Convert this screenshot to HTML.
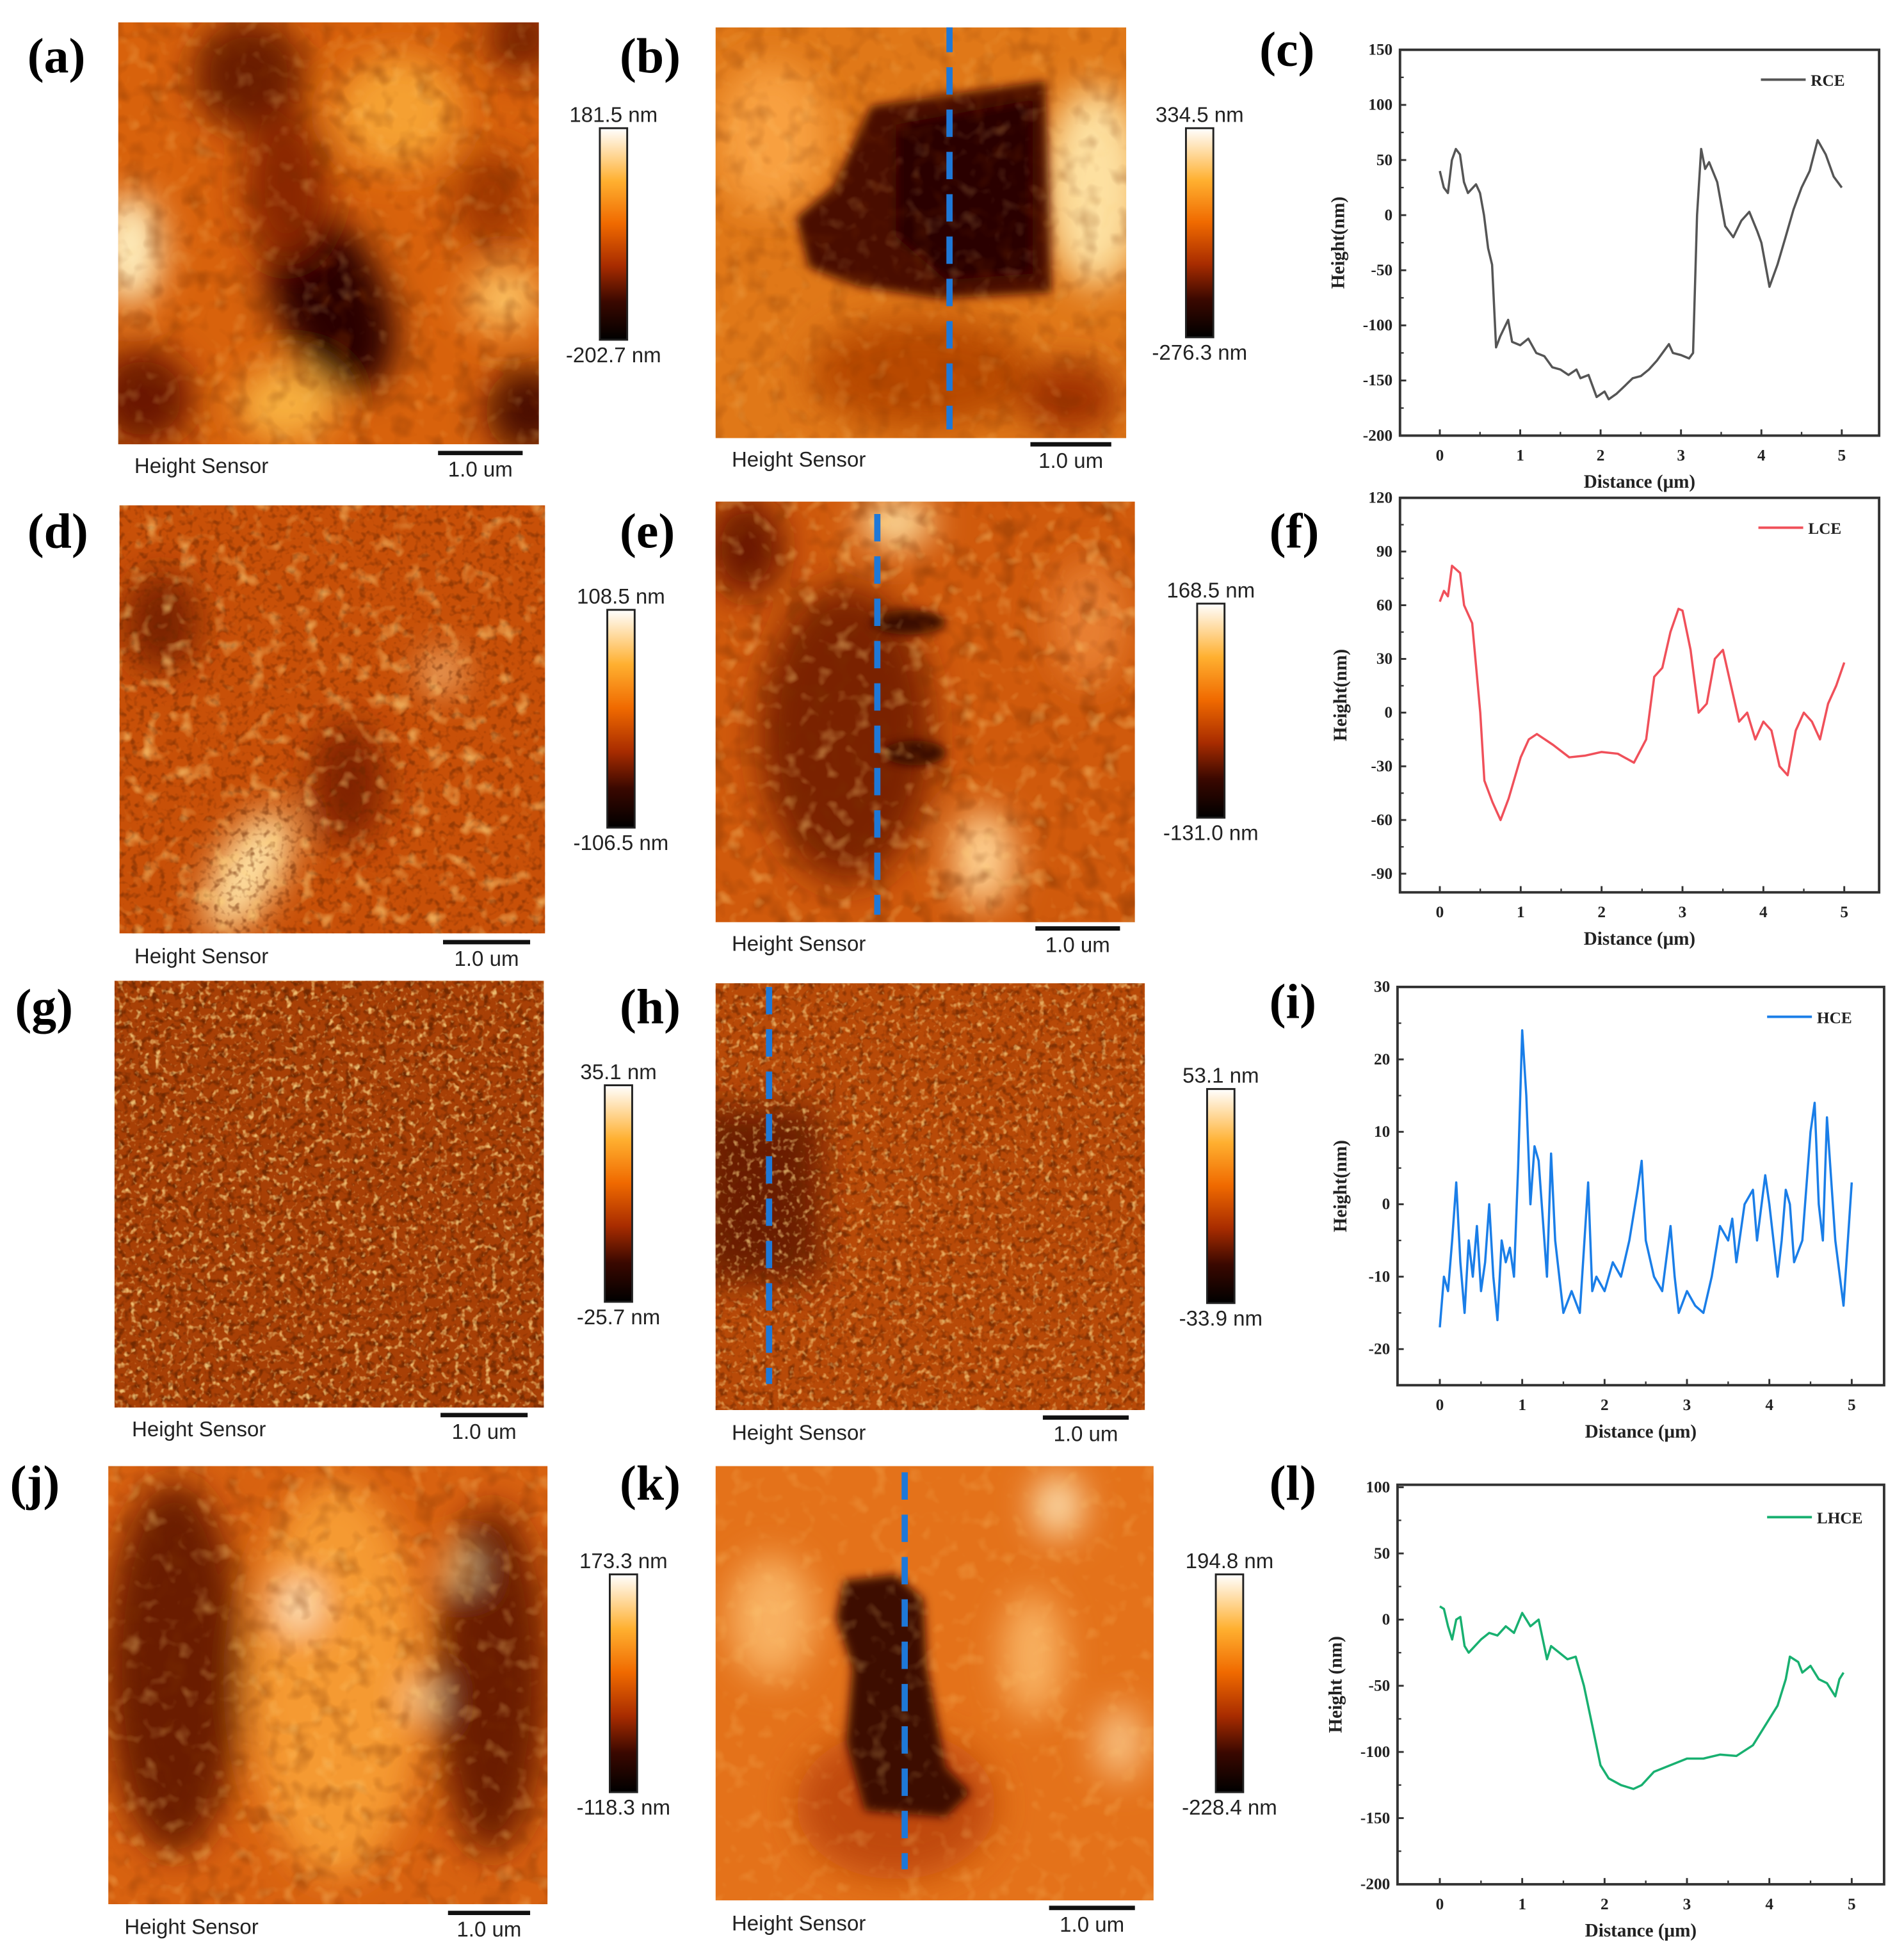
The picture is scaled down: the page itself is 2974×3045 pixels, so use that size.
<!DOCTYPE html>
<html><head><meta charset="utf-8"><style>
html,body{margin:0;padding:0;background:#fff;width:2974px;height:3045px;overflow:hidden}
svg text{font-family:"Liberation Serif",serif}
.lbl{font-family:"Liberation Serif",serif;font-weight:bold;font-size:40px}
.hs{font-family:"Liberation Sans",sans-serif;font-size:17px;fill:#222}
.cb{font-family:"Liberation Sans",sans-serif;font-size:17px;fill:#222}
.tk{font-family:"Liberation Serif",serif;font-weight:bold;font-size:13px;fill:#222}
.ax{font-family:"Liberation Serif",serif;font-weight:bold;font-size:15px;fill:#222}
</style></head><body>
<svg id="fig" width="2974" height="3045" viewBox="0 0 1530 1566" preserveAspectRatio="none" xmlns="http://www.w3.org/2000/svg">
<defs>
<filter id="blur" x="-20%" y="-20%" width="140%" height="140%"><feGaussianBlur stdDeviation="14"/></filter>
<filter id="blurS" x="-30%" y="-30%" width="160%" height="160%"><feGaussianBlur stdDeviation="4"/></filter>
<filter id="nDarkL"><feTurbulence type="fractalNoise" baseFrequency="0.06" numOctaves="2" seed="3"/><feColorMatrix type="matrix" values="0 0 0 0 0.2  0 0 0 0 0.03  0 0 0 0 0  -3 0 0 0 1.55"/></filter>
<filter id="nBrightL"><feTurbulence type="fractalNoise" baseFrequency="0.07" numOctaves="2" seed="7"/><feColorMatrix type="matrix" values="0 0 0 0 1  0 0 0 0 0.65  0 0 0 0 0.2  3 0 0 0 -1.65"/></filter>
<filter id="nDarkH"><feTurbulence type="fractalNoise" baseFrequency="0.18" numOctaves="2" seed="5"/><feColorMatrix type="matrix" values="0 0 0 0 0.15  0 0 0 0 0.02  0 0 0 0 0  -3.5 0 0 0 1.75"/></filter>
<filter id="nBrightH"><feTurbulence type="fractalNoise" baseFrequency="0.2" numOctaves="2" seed="9"/><feColorMatrix type="matrix" values="0 0 0 0 1  0 0 0 0 0.7  0 0 0 0 0.25  3.5 0 0 0 -1.9"/></filter>
<linearGradient id="cbar" x1="0" y1="0" x2="0" y2="1">
<stop offset="0" stop-color="#ffffff"/><stop offset="0.25" stop-color="#ffb030"/><stop offset="0.45" stop-color="#f06a00"/><stop offset="0.65" stop-color="#a82c00"/><stop offset="0.82" stop-color="#3a0800"/><stop offset="1" stop-color="#000"/>
</linearGradient>
<clipPath id="ca"><rect x="95" y="18" width="338" height="339"/></clipPath>
<clipPath id="cb"><rect x="575" y="22" width="330" height="330"/></clipPath>
<clipPath id="cd"><rect x="96" y="406" width="342" height="344"/></clipPath>
<clipPath id="ce"><rect x="575" y="403" width="337" height="338"/></clipPath>
<clipPath id="cg"><rect x="92" y="788" width="345" height="343"/></clipPath>
<clipPath id="ch"><rect x="575" y="790" width="345" height="343"/></clipPath>
<clipPath id="cj"><rect x="87" y="1178" width="353" height="352"/></clipPath>
<clipPath id="ck"><rect x="575" y="1178" width="352" height="349"/></clipPath>
</defs>

<g clip-path="url(#ca)">
<rect x="95" y="18" width="338" height="339" fill="#d8620c"/>
<g filter="url(#blur)">
<ellipse cx="200" cy="60" rx="45" ry="45" fill="#6a1c00"/>
<ellipse cx="265" cy="240" rx="45" ry="80" fill="#2a0400" transform="rotate(-25 265 240)"/>
<ellipse cx="230" cy="150" rx="35" ry="60" fill="#8a2800"/>
<ellipse cx="105" cy="200" rx="25" ry="45" fill="#fff0c0"/>
<ellipse cx="320" cy="90" rx="50" ry="45" fill="#f5a030"/>
<ellipse cx="230" cy="325" rx="40" ry="30" fill="#f8b040"/>
<ellipse cx="405" cy="240" rx="30" ry="25" fill="#fcc060"/>
<ellipse cx="115" cy="320" rx="40" ry="40" fill="#6a1800"/>
<ellipse cx="425" cy="330" rx="35" ry="35" fill="#4a0c00"/>
<ellipse cx="420" cy="30" rx="30" ry="30" fill="#7a2000"/>
<ellipse cx="395" cy="160" rx="30" ry="40" fill="#a03800"/>
</g>
<rect x="95" y="18" width="338" height="339" filter="url(#nDarkL)" opacity="0.35"/>
<rect x="95" y="18" width="338" height="339" filter="url(#nBrightL)" opacity="0.25"/>
</g>

<g clip-path="url(#cb)">
<rect x="575" y="22" width="330" height="330" fill="#e07818"/>
<g filter="url(#blur)">
<ellipse cx="880" cy="150" rx="40" ry="80" fill="#fde0a0"/>
<ellipse cx="620" cy="110" rx="45" ry="60" fill="#f8a040"/>
<ellipse cx="740" cy="300" rx="90" ry="45" fill="#b84800"/>
<ellipse cx="860" cy="320" rx="40" ry="30" fill="#a03000"/>
</g>
<g filter="url(#blurS)">
<polygon points="700,85 840,65 845,235 755,240 690,230 650,215 640,175 670,150" fill="#4a1000"/>
<polygon points="720,100 830,80 830,220 760,225 720,190" fill="#2c0600"/>
</g>
<rect x="575" y="22" width="330" height="330" filter="url(#nDarkL)" opacity="0.25"/>
<rect x="575" y="22" width="330" height="330" filter="url(#nBrightL)" opacity="0.2"/>
<line x1="763" y1="20" x2="763" y2="345" stroke="#1e78d8" stroke-width="5" stroke-dasharray="22,12"/>
</g>

<g clip-path="url(#cd)">
<rect x="96" y="406" width="342" height="344" fill="#c85008"/>
<g filter="url(#blur)">
<ellipse cx="200" cy="700" rx="25" ry="55" fill="#ffe0a0" transform="rotate(30 200 700)"/>
<ellipse cx="355" cy="540" rx="15" ry="15" fill="#ffd090"/>
<ellipse cx="130" cy="500" rx="30" ry="40" fill="#7a2000"/>
<ellipse cx="280" cy="630" rx="30" ry="50" fill="#802400"/>
</g>
<rect x="96" y="406" width="342" height="344" filter="url(#nDarkH)" opacity="0.5"/>
<rect x="96" y="406" width="342" height="344" filter="url(#nBrightL)" opacity="0.7"/>
</g>

<g clip-path="url(#ce)">
<rect x="575" y="403" width="337" height="338" fill="#d05a0c"/>
<g filter="url(#blur)">
<ellipse cx="680" cy="590" rx="70" ry="120" fill="#7a2200"/>
<ellipse cx="720" cy="420" rx="30" ry="20" fill="#ffe0a0"/>
<ellipse cx="600" cy="440" rx="30" ry="40" fill="#6a1800"/>
<ellipse cx="790" cy="690" rx="25" ry="40" fill="#ffd090"/>
<ellipse cx="875" cy="500" rx="30" ry="50" fill="#e88030"/>
</g>
<g filter="url(#blurS)"><ellipse cx="730" cy="500" rx="30" ry="10" fill="#3a0800"/><ellipse cx="735" cy="605" rx="25" ry="10" fill="#3a0800"/></g>
<rect x="575" y="403" width="337" height="338" filter="url(#nDarkL)" opacity="0.4"/>
<rect x="575" y="403" width="337" height="338" filter="url(#nBrightL)" opacity="0.45"/>
<line x1="705" y1="413" x2="705" y2="735" stroke="#1e78d8" stroke-width="5" stroke-dasharray="22,12"/>
</g>

<g clip-path="url(#cg)">
<rect x="92" y="788" width="345" height="343" fill="#a84006"/>
<rect x="92" y="788" width="345" height="343" filter="url(#nDarkH)" opacity="0.9"/>
<rect x="92" y="788" width="345" height="343" filter="url(#nBrightH)" opacity="0.8"/>
</g>

<g clip-path="url(#ch)">
<rect x="575" y="790" width="345" height="343" fill="#b84a08"/>
<g filter="url(#blur)"><rect x="560" y="890" width="100" height="140" fill="#6a1c00"/></g>
<rect x="575" y="790" width="345" height="343" filter="url(#nDarkH)" opacity="0.7"/>
<rect x="575" y="790" width="345" height="343" filter="url(#nBrightH)" opacity="0.65"/>
<line x1="665" y1="962" x2="748" y2="962" stroke="#3a0800" stroke-width="4" filter="url(#blurS)"/>
<line x1="618" y1="793" x2="618" y2="1112" stroke="#1e78d8" stroke-width="5" stroke-dasharray="22,12"/>
</g>

<g clip-path="url(#cj)">
<rect x="87" y="1178" width="353" height="352" fill="#d86210"/>
<g filter="url(#blur)">
<ellipse cx="140" cy="1340" rx="55" ry="150" fill="#6a1a00"/>
<ellipse cx="395" cy="1350" rx="45" ry="140" fill="#6a1a00"/>
<ellipse cx="270" cy="1350" rx="70" ry="160" fill="#f59a30"/>
<ellipse cx="240" cy="1290" rx="15" ry="20" fill="#fff0c8"/>
<ellipse cx="340" cy="1365" rx="12" ry="12" fill="#ffe8b0"/>
<ellipse cx="370" cy="1260" rx="12" ry="12" fill="#ffe0a0"/>
</g>
<rect x="87" y="1178" width="353" height="352" filter="url(#nDarkL)" opacity="0.35"/>
<rect x="87" y="1178" width="353" height="352" filter="url(#nBrightL)" opacity="0.35"/>
</g>

<g clip-path="url(#ck)">
<rect x="575" y="1178" width="352" height="349" fill="#e4721a"/>
<g filter="url(#blur)">
<ellipse cx="620" cy="1300" rx="35" ry="50" fill="#f8b060"/>
<ellipse cx="830" cy="1330" rx="25" ry="50" fill="#f8b060"/>
<ellipse cx="850" cy="1210" rx="20" ry="25" fill="#fde0b0"/>
<ellipse cx="900" cy="1400" rx="20" ry="30" fill="#f8c080"/>
<ellipse cx="720" cy="1450" rx="80" ry="60" fill="#c04a08"/>
</g>
<g filter="url(#blurS)">
<polygon points="678,1270 720,1265 742,1285 745,1340 760,1420 780,1440 760,1460 695,1455 680,1400 685,1340 672,1300" fill="#3c0800"/>
</g>
<rect x="575" y="1178" width="352" height="349" filter="url(#nBrightL)" opacity="0.25"/>
<line x1="727" y1="1183" x2="727" y2="1502" stroke="#1e78d8" stroke-width="5" stroke-dasharray="22,12"/>
</g>

<text class="lbl" x="22" y="58">(a)</text>
<text class="lbl" x="498" y="58">(b)</text>
<text class="lbl" x="1012" y="53">(c)</text>
<text class="lbl" x="22" y="440">(d)</text>
<text class="lbl" x="498" y="440">(e)</text>
<text class="lbl" x="1020" y="440">(f)</text>
<text class="lbl" x="12" y="822">(g)</text>
<text class="lbl" x="498" y="822">(h)</text>
<text class="lbl" x="1020" y="818">(i)</text>
<text class="lbl" x="8" y="1205">(j)</text>
<text class="lbl" x="498" y="1205">(k)</text>
<text class="lbl" x="1020" y="1205">(l)</text>

<g id="decor"></g>
<g id="charts"></g>
</svg>
<script>
var cbars = [
 {x:482,y:103,h:170,top:"181.5 nm",bot:"-202.7 nm",hs:[108,374],bar:[352,420,364]},
 {x:953,y:103,h:168,top:"334.5 nm",bot:"-276.3 nm",hs:[588,369],bar:[828,893,357]},
 {x:488,y:490,h:175,top:"108.5 nm",bot:"-106.5 nm",hs:[108,768],bar:[356,426,757]},
 {x:962,y:485,h:172,top:"168.5 nm",bot:"-131.0 nm",hs:[588,758],bar:[832,900,746]},
 {x:486,y:872,h:174,top:"35.1 nm",bot:"-25.7 nm",hs:[106,1148],bar:[354,424,1137]},
 {x:970,y:875,h:172,top:"53.1 nm",bot:"-33.9 nm",hs:[588,1151],bar:[838,907,1139]},
 {x:490,y:1265,h:175,top:"173.3 nm",bot:"-118.3 nm",hs:[100,1548],bar:[360,426,1537]},
 {x:977,y:1265,h:175,top:"194.8 nm",bot:"-228.4 nm",hs:[588,1545],bar:[843,912,1533]}
];
var NS="http://www.w3.org/2000/svg";
var decor=document.getElementById('decor');
function mk(tag,attrs,parent,txt){var e=document.createElementNS(NS,tag);for(var k in attrs)e.setAttribute(k,attrs[k]);if(txt!==undefined)e.textContent=txt;(parent||decor).appendChild(e);return e;}
cbars.forEach(function(c,i){
 var r=mk('rect',{x:c.x,y:c.y,width:22,height:c.h,fill:'url(#cbar)',stroke:'#222','stroke-width':1.5});
 
 
 var t1=mk('text',{x:c.x+11,y:c.y-5,'text-anchor':'middle','class':'cb'},decor,c.top);
 
 
 var t2=mk('text',{x:c.x+11,y:c.y+c.h+18,'text-anchor':'middle','class':'cb'},decor,c.bot);
 
 
 var h=mk('text',{x:c.hs[0],y:c.hs[1]+6,'class':'hs'},decor,'Height Sensor');
 
 
 var b=mk('line',{x1:c.bar[0],x2:c.bar[1],y1:c.bar[2],y2:c.bar[2],stroke:'#111','stroke-width':3.5});
 
 
 var bt=mk('text',{x:(c.bar[0]+c.bar[1])/2,y:c.bar[2]+19,'text-anchor':'middle','class':'hs'},decor,'1.0 um');
 
 
});

var rceX=[0,0.05,0.1,0.15,0.2,0.25,0.3,0.35,0.45,0.5,0.55,0.6,0.65,0.7,0.75,0.85,0.9,1.0,1.1,1.2,1.3,1.4,1.5,1.6,1.7,1.75,1.85,1.95,2.05,2.1,2.2,2.3,2.4,2.5,2.6,2.7,2.8,2.85,2.9,3.0,3.1,3.15,3.2,3.25,3.3,3.35,3.45,3.55,3.65,3.75,3.85,3.95,4.0,4.1,4.2,4.3,4.4,4.5,4.6,4.7,4.8,4.9,5.0];
var rceY=[40,25,20,50,60,55,30,20,28,20,0,-30,-45,-120,-110,-95,-115,-118,-112,-125,-128,-138,-140,-145,-140,-148,-145,-165,-160,-167,-162,-155,-148,-146,-140,-132,-122,-117,-125,-127,-130,-125,0,60,42,48,30,-10,-20,-5,3,-15,-25,-65,-45,-20,5,25,40,68,55,35,25];
var lceX=[0,0.05,0.1,0.15,0.25,0.3,0.4,0.5,0.55,0.65,0.75,0.85,1.0,1.1,1.2,1.4,1.6,1.8,2.0,2.2,2.4,2.55,2.65,2.75,2.85,2.95,3.0,3.1,3.2,3.3,3.4,3.5,3.6,3.7,3.8,3.9,4.0,4.1,4.2,4.3,4.4,4.5,4.6,4.7,4.8,4.9,5.0];
var lceY=[62,68,65,82,78,60,50,0,-38,-50,-60,-48,-25,-15,-12,-18,-25,-24,-22,-23,-28,-15,20,25,45,58,57,35,0,5,30,35,15,-5,0,-15,-5,-10,-30,-35,-10,0,-5,-15,5,15,28];
var hceX=[0,0.05,0.1,0.15,0.2,0.25,0.3,0.35,0.4,0.45,0.5,0.55,0.6,0.65,0.7,0.75,0.8,0.85,0.9,0.95,1.0,1.05,1.1,1.15,1.2,1.3,1.35,1.4,1.5,1.6,1.7,1.8,1.85,1.9,2.0,2.1,2.2,2.3,2.4,2.45,2.5,2.6,2.7,2.8,2.85,2.9,3.0,3.1,3.2,3.3,3.4,3.5,3.55,3.6,3.7,3.8,3.85,3.95,4.0,4.1,4.15,4.2,4.25,4.3,4.4,4.5,4.55,4.6,4.65,4.7,4.8,4.9,5.0];
var hceY=[-17,-10,-12,-5,3,-8,-15,-5,-10,-3,-12,-8,0,-10,-16,-5,-8,-6,-10,5,24,15,0,8,6,-10,7,-5,-15,-12,-15,3,-12,-10,-12,-8,-10,-5,2,6,-5,-10,-12,-3,-10,-15,-12,-14,-15,-10,-3,-5,-2,-8,0,2,-5,4,0,-10,-5,2,0,-8,-5,10,14,0,-5,12,-5,-14,3];
var lhceX=[0,0.05,0.1,0.15,0.2,0.25,0.3,0.35,0.5,0.6,0.7,0.8,0.9,1.0,1.05,1.1,1.2,1.3,1.35,1.45,1.55,1.65,1.75,1.85,1.95,2.05,2.2,2.35,2.45,2.6,2.8,3.0,3.2,3.4,3.6,3.8,3.9,4.0,4.1,4.2,4.25,4.35,4.4,4.5,4.6,4.7,4.8,4.85,4.9];
var lhceY=[10,8,-5,-15,0,2,-20,-25,-15,-10,-12,-5,-10,5,0,-5,0,-30,-20,-25,-30,-28,-50,-80,-110,-120,-125,-128,-125,-115,-110,-105,-105,-102,-103,-95,-85,-75,-65,-45,-28,-32,-40,-35,-45,-48,-58,-45,-40];
var xTicks=[0,1,2,3,4,5];
var rceTicks=[-200,-150,-100,-50,0,50,100,150];
var lceTicks=[-90,-60,-30,0,30,60,90,120];
var hceTicks=[-20,-10,0,10,20,30];
var lhceTicks=[-200,-150,-100,-50,0,50,100];

var chartsG=document.getElementById('charts');
function chart(o){
 var g=mk('g',{},chartsG);
 
 
 function sx(v){return o.px0+(o.px5-o.px0)*v/5;}
 function sy(v){return o.pyTop+(o.pyBot-o.pyTop)*(o.yMax-v)/(o.yMax-o.yMin);}
 var box=mk('rect',{x:o.bx0,y:o.by0,width:o.bx1-o.bx0,height:o.by1-o.by0,fill:'none',stroke:'#333','stroke-width':2},g);
 
 
 var step=o.ticks[1]-o.ticks[0];
 o.ticks.forEach(function(t,i){
  var y=sy(t);
  mk('line',{x1:o.bx0,x2:o.bx0+5,y1:y,y2:y,stroke:'#333','stroke-width':1.5},g);
  if(i<o.ticks.length-1){var ym=sy(t+step/2);mk('line',{x1:o.bx0,x2:o.bx0+3,y1:ym,y2:ym,stroke:'#333','stroke-width':1.2},g);}
  var tl=mk('text',{x:o.bx0-6,y:y+4,'text-anchor':'end','class':'tk'},g,String(t));
  
  
 });
 xTicks.forEach(function(t,i){
  var x=sx(t);
  mk('line',{x1:x,x2:x,y1:o.by1,y2:o.by1-5,stroke:'#333','stroke-width':1.5},g);
  if(i<xTicks.length-1){var xm=sx(t+0.5);mk('line',{x1:xm,x2:xm,y1:o.by1,y2:o.by1-3,stroke:'#333','stroke-width':1.2},g);}
  var tl=mk('text',{x:x,y:o.by1+20,'text-anchor':'middle','class':'tk'},g,String(t));
  
  
 });
 var d='';
 for(var i=0;i<o.xs.length;i++){d+=(i?'L':'M')+sx(o.xs[i]).toFixed(1)+','+sy(o.ys[i]).toFixed(1);}
 var p=mk('path',{d:d,fill:'none',stroke:o.color,'stroke-width':1.8,'stroke-linejoin':'round'},g);
 
 
 var ll=mk('line',{x1:o.lx,x2:o.lx+36,y1:o.ly,y2:o.ly,stroke:o.color,'stroke-width':2},g);
 
 
 var lt=mk('text',{x:o.lx+40,y:o.ly+5,'class':'tk'},g,o.label);
 
 
 var yc=(o.by0+o.by1)/2;
 var yt=mk('text',{x:o.ylx,y:yc,'text-anchor':'middle','class':'ax',transform:'rotate(-90 '+o.ylx+' '+yc+')'},g,o.ylab);
 
 
 var xt=mk('text',{x:(o.bx0+o.bx1)/2,y:o.by1+42,'text-anchor':'middle','class':'ax'},g,'Distance (μm)');
 
 
}
chart({name:'chart-c-rce',series:'rce',label:'RCE',color:'#555',xs:rceX,ys:rceY,ticks:rceTicks,yMin:-200,yMax:150,pyTop:40,pyBot:350,px0:1157,px5:1480,bx0:1125,bx1:1510,by0:40,by1:350,lx:1415,ly:64,ylx:1080,ylab:'Height(nm)'});
chart({name:'chart-f-lce',series:'lce',label:'LCE',color:'#f0505a',xs:lceX,ys:lceY,ticks:lceTicks,yMin:-90,yMax:120,pyTop:400,pyBot:702,px0:1157,px5:1482,bx0:1125,bx1:1510,by0:400,by1:717,lx:1413,ly:424,ylx:1082,ylab:'Height(nm)'});
chart({name:'chart-i-hce',series:'hce',label:'HCE',color:'#1a7ee8',xs:hceX,ys:hceY,ticks:hceTicks,yMin:-20,yMax:30,pyTop:793,pyBot:1084,px0:1157,px5:1488,bx0:1123,bx1:1514,by0:793,by1:1113,lx:1420,ly:817,ylx:1082,ylab:'Height(nm)'});
chart({name:'chart-l-lhce',series:'lhce',label:'LHCE',color:'#18b070',xs:lhceX,ys:lhceY,ticks:lhceTicks,yMin:-200,yMax:100,pyTop:1195,pyBot:1514,px0:1157,px5:1488,bx0:1123,bx1:1514,by0:1193,by1:1514,lx:1420,ly:1219,ylx:1078,ylab:'Height (nm)'});
</script>
</body></html>
